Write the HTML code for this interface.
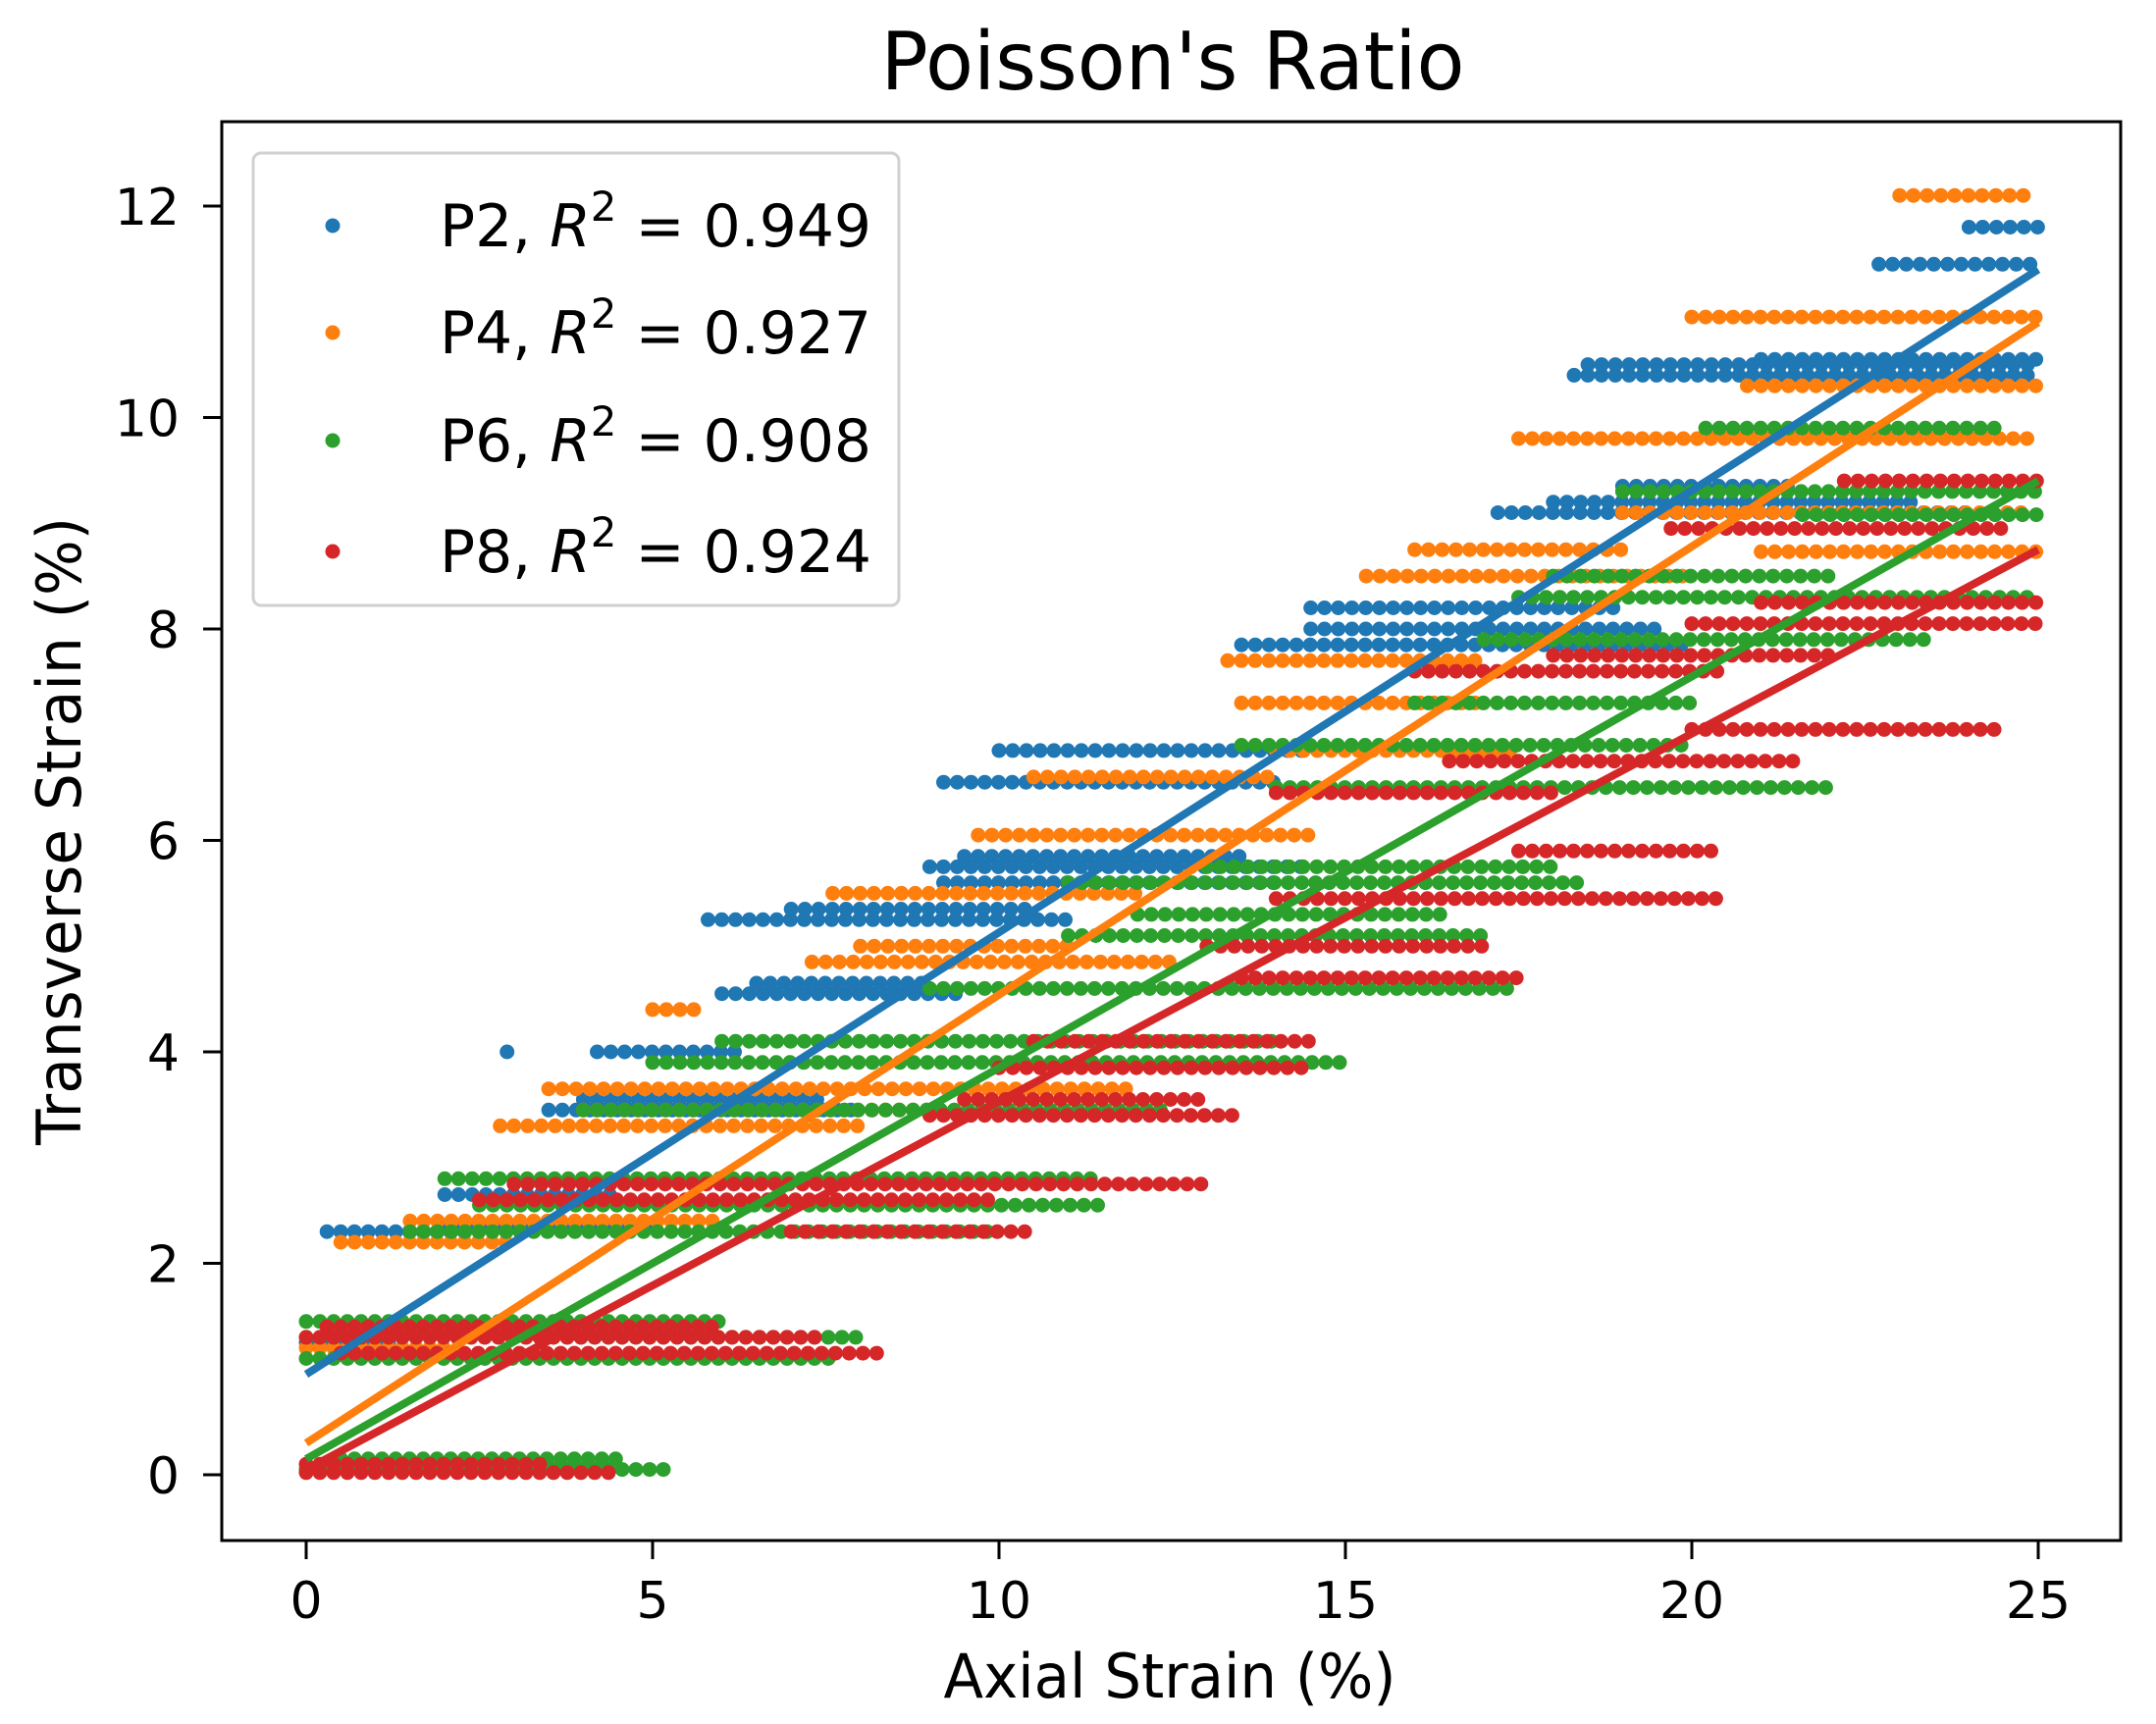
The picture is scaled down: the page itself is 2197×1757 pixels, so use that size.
<!DOCTYPE html>
<html><head><meta charset="utf-8"><style>
html,body{margin:0;padding:0;background:#fff;}
svg{display:block;font-family:"DejaVu Sans","Liberation Sans",sans-serif;}
</style></head><body>
<svg id="chart" width="2197" height="1757" viewBox="0 0 2197 1757" xmlns="http://www.w3.org/2000/svg">
<rect width="2197" height="1757" fill="#fff"/>
<text x="1195" y="91" font-size="82" text-anchor="middle" textLength="595" lengthAdjust="spacingAndGlyphs">Poisson's Ratio</text>
<g id="points"></g>
<g id="fits"></g>
<rect x="226" y="124" width="1935" height="1446" fill="none" stroke="#000" stroke-width="3"/>
<g id="axes"></g>
<text x="1192" y="1730" font-size="62" text-anchor="middle" textLength="461" lengthAdjust="spacingAndGlyphs">Axial Strain (%)</text>
<text transform="translate(82,847) rotate(-90)" font-size="62" text-anchor="middle" textLength="640" lengthAdjust="spacingAndGlyphs">Transverse Strain (%)</text>
<g id="legend"></g>
</svg>
<script>
const seriesNames = ["P2","P4","P6","P8"];
const seriesR2 = ["0.949","0.927","0.908","0.924"];
const seriesColors = ["#1f77b4","#ff7f0e","#2ca02c","#d62728"];
const xTicks = [0,5,10,15,20,25];
const yTicks = [0,2,4,6,8,10,12];
const fitAtZero = [0.95,0.3,0.15,0.05];
const fitAtEnd = [11.4,10.9,9.4,8.75];
const p2Bands = [[0.05,0,4.5],[1.25,0,1.2],[2.3,0.3,2.4],[2.35,2,5],[2.65,2,4.5],[3.45,3.5,8],[3.55,4,7.5],[4.0,2.9,3.0],[4.0,4.2,6.2],[4.55,6,9.5],[4.65,6.5,9],[5.25,5.8,11],[5.35,7,10.5],[5.6,9.2,14],[5.75,9,14.5],[5.85,9.5,13.5],[6.55,9.2,14],[6.85,10,14.5],[7.85,13.5,20],[8.0,14.5,19.5],[8.2,14.5,19],[9.1,17.2,24],[9.2,18,23.2],[9.35,19,21.5],[10.4,18.3,25],[10.5,18.5,25],[10.55,21,25],[11.45,22.7,25],[11.8,24,25]];
const p4Bands = [[0.05,0,4],[1.2,0,2],[2.2,0.5,3],[2.4,1.5,6],[3.3,2.8,8],[3.45,4,9],[3.65,3.5,12],[4.4,5,5.6],[4.85,7.3,12.5],[5.0,8,11],[5.5,7.6,12],[6.05,9.7,14.5],[6.6,10.5,14],[6.85,14,17.5],[7.3,13.5,17],[7.7,13.3,17],[8.5,15.3,20],[8.75,16,19],[9.1,19,24.8],[8.73,21,25],[9.8,17.5,25],[10.3,20.8,25],[10.95,20,25],[12.1,23,24.8]];
const p6Bands = [[0.05,0,5.3],[0.15,0.5,4.5],[1.1,0,7.6],[1.3,0,8],[1.45,0,6],[2.3,1.5,10],[2.55,2.5,11.5],[2.8,2,11.5],[3.45,4,12.5],[3.9,5,15],[4.1,6,14],[4.6,9,17.5],[5.1,11,17],[5.3,12,16.5],[5.6,11,18.5],[5.75,13,18],[6.5,14,22],[6.9,13.5,20],[7.3,16,20],[7.9,17,23.5],[8.3,17.5,25],[8.5,18,22],[9.08,21.6,25],[9.3,19,25],[9.9,20.2,24.5]];
const p8Bands = [[0.02,0,4.5],[0.1,0,3.5],[1.15,0.5,8.3],[1.3,0,7.5],[1.4,0.3,6],[2.3,7,10.5],[2.6,2.5,10],[2.75,3,13],[3.4,9,13.5],[3.55,9.5,13],[3.85,10,14.5],[4.1,10.5,14.5],[4.7,13.5,17.5],[5.0,13,17],[5.45,14,20.5],[5.9,17.5,20.3],[6.45,14,18],[6.75,16.5,21.5],[7.05,20,24.5],[7.6,16,20.5],[7.75,18,22],[8.05,20,25],[8.25,21,25],[8.95,19.7,24.5],[9.4,22.2,25]];
const allBands = [p2Bands,p4Bands,p6Bands,p8Bands];

const NS = "http://www.w3.org/2000/svg";
const X0 = 312, XPU = 70.6, Y0 = 1503, YPU = 107.75;
function xs(v){ return X0 + v*XPU; }
function ys(v){ return Y0 - v*YPU; }
function mk(tag, attrs, parent){ const e=document.createElementNS(NS,tag); for(const k in attrs) e.setAttribute(k,attrs[k]); parent.appendChild(e); return e; }

const pts = document.getElementById('points');
allBands.forEach((bands, si) => {
  const g = mk('g', {fill: seriesColors[si]}, pts);
  
  
  bands.forEach(b => {
    const px0 = xs(b[1]), px1 = xs(b[2]), py = ys(b[0]);
    for (let px = px0; px <= px1 + 0.1; px += 14) {
      const c = mk('circle', {cx: px.toFixed(1), cy: py.toFixed(1), r: 7.5}, g);
      
      
    }
  });
});

const fits = document.getElementById('fits');
seriesNames.forEach((n, si) => {
  const l = mk('line', {x1: xs(0), y1: ys(fitAtZero[si]), x2: xs(25), y2: ys(fitAtEnd[si]), stroke: seriesColors[si], 'stroke-width': 8}, fits);
  
  
});

const axes = document.getElementById('axes');
xTicks.forEach(t => {
  const tk = mk('line', {x1: xs(t), y1: 1570, x2: xs(t), y2: 1589, stroke: '#000', 'stroke-width': 3}, axes);
  
  
  const tx = mk('text', {x: xs(t), y: 1649, 'font-size': 52, 'text-anchor': 'middle'}, axes);
  tx.textContent = t;
  
  
});
yTicks.forEach(t => {
  const tk = mk('line', {x1: 207, y1: ys(t), x2: 226, y2: ys(t), stroke: '#000', 'stroke-width': 3}, axes);
  
  
  const tx = mk('text', {x: 183, y: ys(t) + 19, 'font-size': 52, 'text-anchor': 'end'}, axes);
  tx.textContent = t;
  
  
});

const leg = document.getElementById('legend');
const box = mk('rect', {x: 258, y: 156, width: 658, height: 461, rx: 8, fill: '#fff', 'fill-opacity': 0.85, stroke: '#d0d0d0', 'stroke-width': 3}, leg);


const rowY = [230, 339, 449, 562];
seriesNames.forEach((n, si) => {
  const m = mk('circle', {cx: 339, cy: rowY[si], r: 7.5, fill: seriesColors[si]}, leg);
  
  
  const t = mk('text', {x: 448, y: rowY[si] + 21, 'font-size': 60, textLength: 440, lengthAdjust: 'spacingAndGlyphs'}, leg);
  
  
  t.appendChild(document.createTextNode(n + ', '));
  const r = mk('tspan', {'font-style': 'italic'}, t); r.textContent = 'R';
  const s = mk('tspan', {dy: -26, 'font-size': 42}, t); s.textContent = '2';
  const e = mk('tspan', {dy: 26}, t); e.textContent = ' = ' + seriesR2[si];
});
</script>
</body></html>
